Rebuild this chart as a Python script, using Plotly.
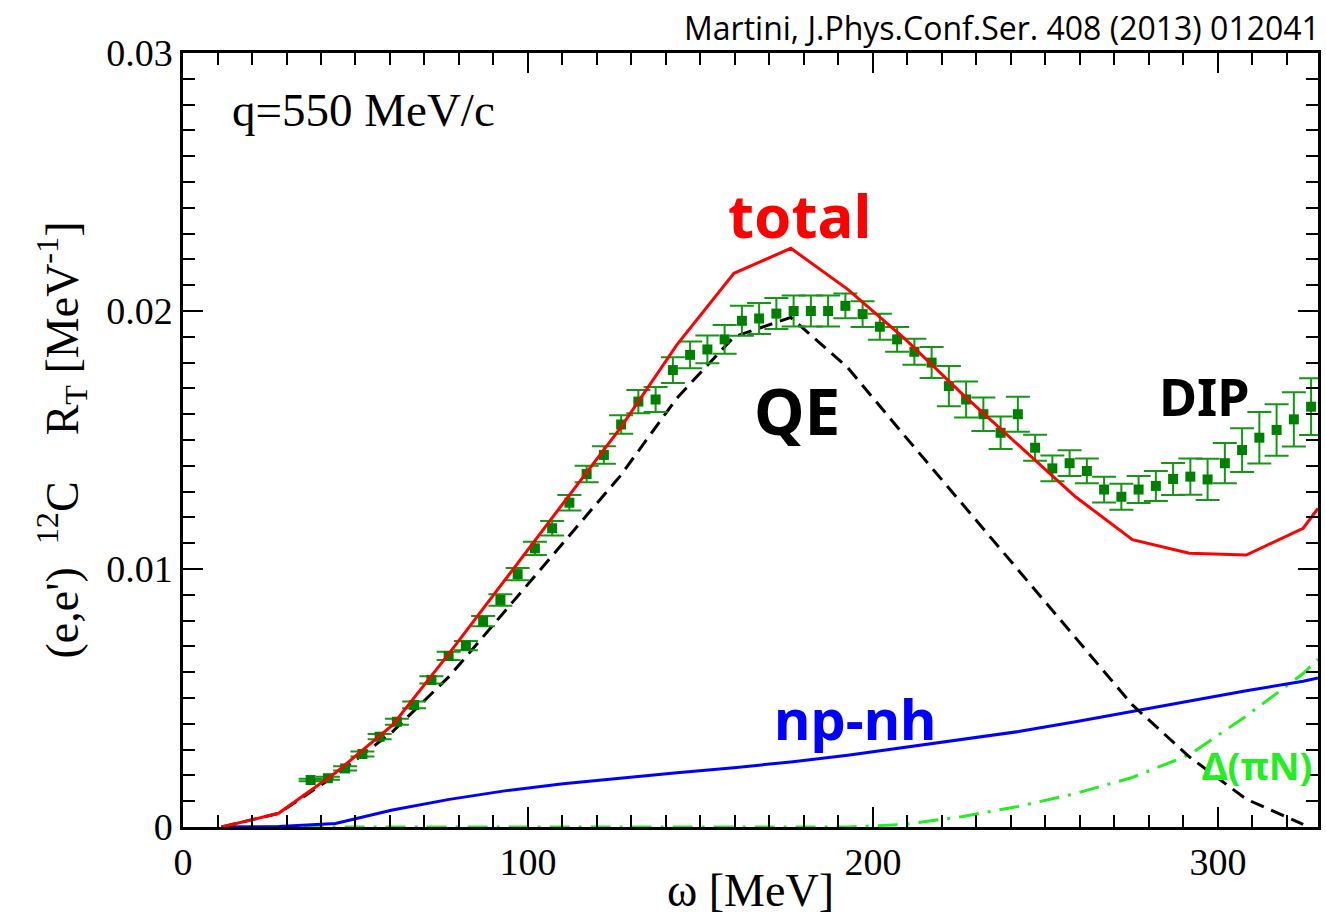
import plotly.graph_objects as go

# ---------------- data ----------------
# experimental points (omega in MeV, R_T in MeV^-1, error)
exp_omega = [37 + 5 * k for k in range(59)]
exp_rt = [0.00182, 0.00189, 0.00227, 0.00283, 0.00350, 0.00408, 0.00473, 0.00570, 0.00663, 0.00703,
          0.00798, 0.00880, 0.00980, 0.01080, 0.01158, 0.01257, 0.01368, 0.01442, 0.01560, 0.01649,
          0.01657, 0.01771, 0.01830, 0.01851, 0.01890, 0.01962, 0.01971, 0.01990, 0.02000, 0.02000,
          0.02000, 0.02020, 0.01988, 0.01939, 0.01890, 0.01842, 0.01800, 0.01709, 0.01657, 0.01600,
          0.01528, 0.01600, 0.01470, 0.01390, 0.01410, 0.01380, 0.01308, 0.01280, 0.01308, 0.01322,
          0.01349, 0.01358, 0.01347, 0.01410, 0.01461, 0.01509, 0.01539, 0.01580, 0.01629]
exp_err = [0.00005, 0.00006, 0.00008, 0.00010, 0.00010, 0.00012, 0.00013, 0.00014, 0.00016, 0.00018,
           0.00020, 0.00022, 0.00024, 0.00026, 0.00028, 0.00030, 0.00032, 0.00034, 0.00036, 0.00045,
           0.00048, 0.00050, 0.00052, 0.00054, 0.00056, 0.00058, 0.00060, 0.00060, 0.00060, 0.00060,
           0.00060, 0.00048, 0.00050, 0.00050, 0.00048, 0.00050, 0.00060, 0.00078, 0.00070, 0.00065,
           0.00063, 0.00068, 0.00050, 0.00050, 0.00050, 0.00048, 0.00050, 0.00050, 0.00052, 0.00058,
           0.00062, 0.00070, 0.00080, 0.00078, 0.00085, 0.00100, 0.00100, 0.00105, 0.00110]

# theory grid (omega in MeV)
th_omega = [11.2, 27.7, 44.2, 60.7, 77.2, 93.7, 110.2, 126.7, 143.2, 159.7, 176.2, 192.7,
            209.2, 225.7, 242.2, 258.7, 275.2, 291.7, 308.2, 324.7, 329.0]
total = [0.0, 0.00053, 0.00210, 0.00395, 0.00674, 0.00963, 0.01252, 0.01545, 0.01870, 0.02146,
         0.02243, 0.02084, 0.01893, 0.01681, 0.01480, 0.01280, 0.01114, 0.01061, 0.01054, 0.01158, 0.01235]
qe = [0.0, 0.00053, 0.00200, 0.00369, 0.00584, 0.00842, 0.01101, 0.01360, 0.01663, 0.01900,
      0.01975, 0.01780, 0.01516, 0.01255, 0.00991, 0.00731, 0.00473, 0.00272, 0.00108, 0.00010, None]
npnh = [0.0, 0.00002, 0.00014, 0.00066, 0.00107, 0.00141, 0.00168, 0.00190, 0.00210, 0.00230,
        0.00252, 0.00278, 0.00308, 0.00338, 0.00370, 0.00408, 0.00448, 0.00490, 0.00528, 0.00565, 0.00578]
delta = [0.0, 0.0, 0.0, 0.0, 0.0, 0.0, 0.0, 0.0, 0.0, 0.0,
         0.0, 0.0, 0.00010, 0.00040, 0.00080, 0.00130, 0.00192, 0.00280, 0.00430, 0.00595, 0.00650]

x_ticks = [0, 100, 200, 300]
y_ticks = [0, 0.01, 0.02, 0.03]
y_ticktext = ["0", "0.01", "0.02", "0.03"]

# ---------------- figure ----------------
fig = go.Figure()

fig.add_trace(go.Scatter(x=th_omega, y=delta, mode="lines",
                         line=dict(color="#22ee22", width=3, dash="20px,9px,3px,9px"),
                         hoverinfo="skip"))
fig.add_trace(go.Scatter(x=th_omega, y=npnh, mode="lines",
                         line=dict(color="#0000ff", width=3), hoverinfo="skip"))
fig.add_trace(go.Scatter(x=th_omega, y=qe, mode="lines",
                         line=dict(color="black", width=3, dash="14px,8px"), hoverinfo="skip"))
fig.add_trace(go.Scatter(x=exp_omega, y=exp_rt, mode="markers",
                         marker=dict(symbol="square", size=10, color="#008000"),
                         error_y=dict(type="data", array=exp_err, visible=True,
                                      color="#129812", thickness=2, width=12)))
fig.add_trace(go.Scatter(x=th_omega, y=total, mode="lines",
                         line=dict(color="#ff0000", width=3), hoverinfo="skip"))

serif = "Liberation Serif"
label_font = "Noto Sans"

fig.add_annotation(x=52.2, y=0.02779, xref="x", yref="y", text="q=550 MeV/c", showarrow=False,
                   font=dict(family=serif, size=47, color="black"))
fig.add_annotation(x=178.8, y=0.02372, xref="x", yref="y", text="total", showarrow=False,
                   font=dict(family=label_font, size=60, color="#ff0000", weight="bold"))
fig.add_annotation(x=178.0, y=0.01616, xref="x", yref="y", text="QE", showarrow=False,
                   font=dict(family=label_font, size=64, color="black", weight="bold"))
fig.add_annotation(x=296.2, y=0.01674, xref="x", yref="y", text="DIP", showarrow=False,
                   font=dict(family=label_font, size=52, color="black", weight="bold"))
fig.add_annotation(x=194.8, y=0.00422, xref="x", yref="y", text="np-nh", showarrow=False,
                   font=dict(family=label_font, size=56, color="#0000ff", weight="bold"))
fig.add_annotation(x=311.3, y=0.00240, xref="x", yref="y", text="Δ(πN)", showarrow=False,
                   font=dict(family=label_font, size=38, color="#22ee22", weight="bold"))
fig.add_annotation(x=1.0, y=1.0, xref="paper", yref="paper", xanchor="right", yanchor="bottom",
                   yshift=2, xshift=4,
                   text="Martini, J.Phys.Conf.Ser. 408 (2013) 012041", showarrow=False,
                   font=dict(family="Open Sans", size=32, color="black"))

axis_common = dict(showline=True, linecolor="black", linewidth=2.5, mirror="ticks",
                   ticks="inside", ticklen=20, tickwidth=2, tickcolor="black",
                   showgrid=False, zeroline=False, automargin=False,
                   tickfont=dict(family=serif, size=38, color="black"))

fig.update_xaxes(range=[0, 329], tickvals=x_ticks, ticktext=[str(v) for v in x_ticks],
                 minor=dict(ticks="inside", ticklen=12, tickwidth=2, tickcolor="black", dtick=10, tick0=0),
                 title=dict(text="ω [MeV]", font=dict(family=serif, size=46, color="black"), standoff=0),
                 **axis_common)
fig.update_yaxes(range=[0, 0.03], tickvals=y_ticks, ticktext=y_ticktext,
                 minor=dict(ticks="inside", ticklen=12, tickwidth=2, tickcolor="black", dtick=0.001, tick0=0),
                 title=dict(text="(e,e')  <sup>12</sup>C    R<sub>T</sub> [MeV<sup>-1</sup>]",
                            font=dict(family=serif, size=46, color="black"), standoff=14),
                 **axis_common)

fig.update_layout(width=1326, height=916, showlegend=False,
                  paper_bgcolor="white", plot_bgcolor="white",
                  margin=dict(l=183, r=8, t=53, b=89))

fig.write_html("out.html")
